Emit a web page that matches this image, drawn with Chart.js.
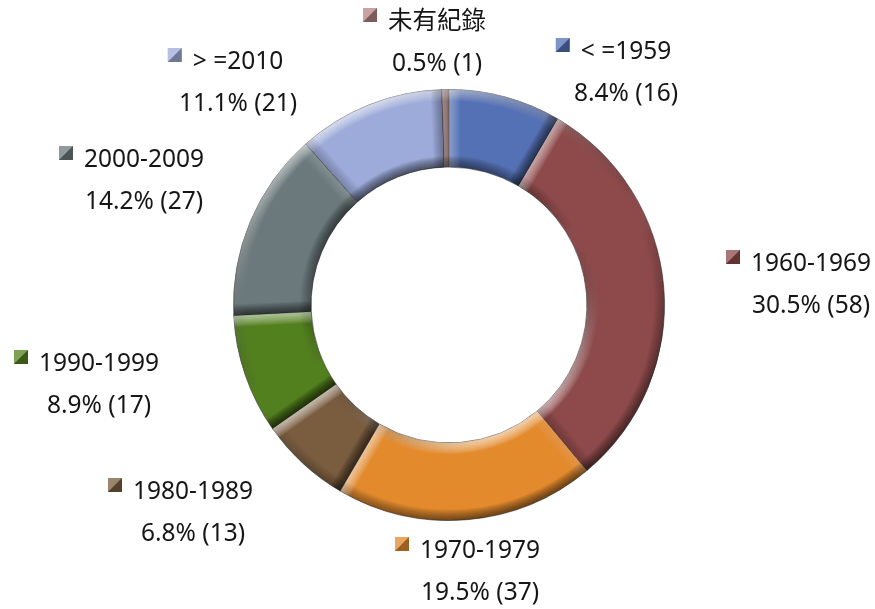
<!DOCTYPE html>
<html>
<head>
<meta charset="utf-8">
<script src="https://cdn.jsdelivr.net/npm/chart.js@4"></script>
<style>
  html, body { margin: 0; padding: 0; background: #fff; }
</style>
</head>
<body>
<canvas id="myChart" width="875" height="609"></canvas>
<script>
'use strict';

// slices go clockwise from 12 o'clock
var categories = ['< =1959', '1960-1969', '1970-1979', '1980-1989', '1990-1999', '2000-2009', '> =2010', '未有紀錄'];
var counts = [16, 58, 37, 13, 17, 27, 21, 1];
var sliceColors = ['#5571b5', '#8e4a4b', '#e38a2d', '#7a5c3f', '#53801f', '#6b797c', '#9dabda', '#b48583'];

// centre of first text line for each label block
var labelSpots = [[626, 52], [811, 264], [480, 551], [193, 492], [99, 364], [144, 160], [238, 62], [437, 22]];

function tint(d, a) {
  // d > 0 lit, d < 0 shadow
  return d > 0 ? 'rgba(255,255,255,' + (a * d).toFixed(3) + ')' : 'rgba(0,0,0,' + (-a * d).toFixed(3) + ')';
}

function lightOf(nx, ny) {
  // light comes from the top-left
  return nx * -0.45 + ny * -0.89;
}

var bevelPlugin = {
  id: 'bevel',
  afterDatasetsDraw: function (chart) {
    var c = chart.ctx;
    chart.getDatasetMeta(0).data.forEach(function (arc) {
      var p = arc.getProps(['x', 'y', 'startAngle', 'endAngle', 'innerRadius', 'outerRadius'], true);
      var R = p.outerRadius, r = p.innerRadius;
      var a = p.startAngle, b = p.endAngle;
      c.save();
      c.beginPath();
      c.arc(p.x, p.y, R, a, b);
      c.arc(p.x, p.y, r, b, a, true);
      c.closePath();
      c.clip();

      var steps = 11;
      var al = 0.075;
      for (var k = 1; k <= steps; k++) {
        c.lineWidth = k * 2;

        // outer rim
        var g1 = c.createLinearGradient(p.x - R * 0.45, p.y - R * 0.89, p.x + R * 0.45, p.y + R * 0.89);
        g1.addColorStop(0, tint(1, al));
        g1.addColorStop(0.5, tint(0, al));
        g1.addColorStop(1, tint(-1, al * 0.9));
        c.strokeStyle = g1;
        c.beginPath();
        c.arc(p.x, p.y, R, a, b);
        c.stroke();

        // inner rim faces the centre
        var g2 = c.createLinearGradient(p.x - r * 0.45, p.y - r * 0.89, p.x + r * 0.45, p.y + r * 0.89);
        g2.addColorStop(0, tint(-1, al * 0.9));
        g2.addColorStop(0.5, tint(0, al));
        g2.addColorStop(1, tint(1, al));
        c.strokeStyle = g2;
        c.beginPath();
        c.arc(p.x, p.y, r, a, b);
        c.stroke();

        // radial edges
        c.strokeStyle = tint(lightOf(Math.sin(a), -Math.cos(a)), al);
        c.beginPath();
        c.moveTo(p.x + r * Math.cos(a), p.y + r * Math.sin(a));
        c.lineTo(p.x + R * Math.cos(a), p.y + R * Math.sin(a));
        c.stroke();
        c.strokeStyle = tint(lightOf(-Math.sin(b), Math.cos(b)), al);
        c.beginPath();
        c.moveTo(p.x + r * Math.cos(b), p.y + r * Math.sin(b));
        c.lineTo(p.x + R * Math.cos(b), p.y + R * Math.sin(b));
        c.stroke();
      }
      c.restore();
    });
  }
};

function drawMarker(c, x, y, s, color) {
  c.fillStyle = color;
  c.fillRect(x, y, s, s);
  c.fillStyle = 'rgba(255,255,255,0.25)';
  c.beginPath();
  c.moveTo(x, y); c.lineTo(x + s, y); c.lineTo(x + s / 2, y + s / 2); c.lineTo(x, y + s);
  c.closePath();
  c.fill();
  c.fillStyle = 'rgba(0,0,0,0.3)';
  c.beginPath();
  c.moveTo(x + s, y); c.lineTo(x + s, y + s); c.lineTo(x, y + s); c.lineTo(x + s / 2, y + s / 2);
  c.closePath();
  c.fill();
}

var labelPlugin = {
  id: 'sliceLabels',
  afterDraw: function (chart) {
    var c = chart.ctx;
    var total = counts.reduce(function (s, v) { return s + v; }, 0);
    c.save();
    c.font = '24.5px "Noto Sans", "Noto Sans CJK TC", sans-serif';
    c.textBaseline = 'middle';
    c.textAlign = 'center';
    categories.forEach(function (name, i) {
      var spot = labelSpots[i];
      var pct = (counts[i] / total * 100).toFixed(1) + '% (' + counts[i] + ')';
      var w = c.measureText(name).width;
      c.fillStyle = '#161616';
      c.fillText(name, spot[0], spot[1]);
      c.fillText(pct, spot[0], spot[1] + 42);
      drawMarker(c, spot[0] - w / 2 - 25, spot[1] - 14, 14, sliceColors[i]);
    });
    c.restore();
  }
};

var ctx = document.getElementById('myChart').getContext('2d');

var myChart = new Chart(ctx, {
  type: 'doughnut',
  data: {
    labels: categories,
    datasets: [{
      data: counts,
      backgroundColor: sliceColors,
      borderColor: 'rgba(60,60,60,0.6)',
      borderWidth: 1
    }]
  },
  options: {
    responsive: false,
    animation: false,
    cutout: '64%',
    layout: { padding: { left: 233, right: 210, top: 89, bottom: 88 } },
    plugins: {
      legend: { display: false },
      tooltip: { enabled: false }
    }
  },
  plugins: [bevelPlugin, labelPlugin]
});
</script>
</body>
</html>
